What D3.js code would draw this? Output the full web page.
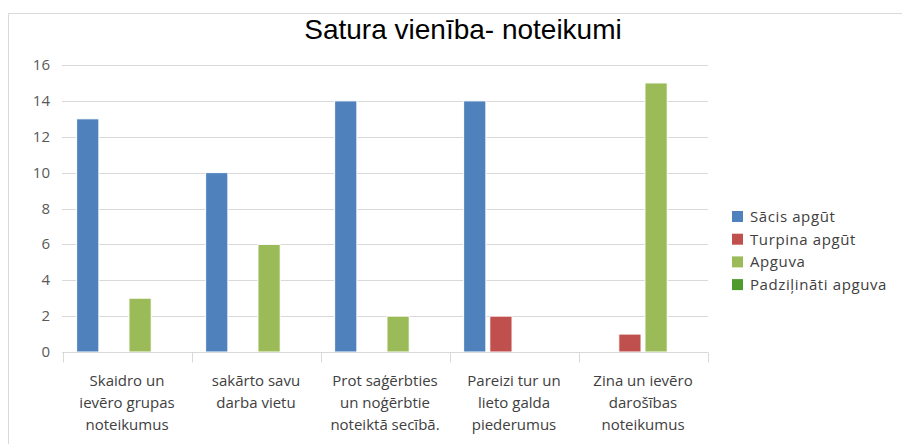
<!DOCTYPE html>
<html>
<head>
<meta charset="utf-8">
<script src="https://cdn.jsdelivr.net/npm/d3@7"></script>
<style>
  body { margin: 0; background: #fff; }
  svg { display: block; }
</style>
</head>
<body>
<div id="container"></div>
<script>
const categories = [
    ["Skaidro un", "ievēro grupas", "noteikumus"],
    ["sakārto savu", "darba vietu"],
    ["Prot saģērbties", "un noģērbtie", "noteiktā secībā."],
    ["Pareizi tur un", "lieto galda", "piederumus"],
    ["Zina un ievēro", "darošības", "noteikumus"]
];
const seriesNames = ["Sācis apgūt", "Turpina apgūt", "Apguva", "Padziļināti apguva"];
const sacis = [13, 10, 14, 14, 0];
const turpina = [0, 0, 0, 2, 1];
const apguva = [3, 6, 2, 0, 15];
const padzilinati = [0, 0, 0, 0, 0];
const yTicks = [0, 2, 4, 6, 8, 10, 12, 14, 16];
const colors = ["#4f81bd", "#c0504d", "#9bbb59", "#4e9a2b"];

const width = 902;
const height = 444;

const svg = d3.select("div#container").append("svg")
    .attr("width", width)
    .attr("height", height);

// outer frame (only top/left visible)
svg.append("path")
    .attr("d", "M8.5," + height + "V13.5H" + width)
    .attr("fill", "none")
    .attr("stroke", "#d9d9d9");

svg.append("text")
    .attr("x", 463)
    .attr("y", 39)
    .attr("text-anchor", "middle")
    .style("font-family", "Liberation Sans, Arial, sans-serif")
    .style("font-size", "28px")
    .attr("fill", "#000")
    .text("Satura vienība- noteikumi");

const values = [sacis, turpina, apguva, padzilinati];
const table = categories.map(function(c, i) {
    return values.map(function(v, j) { return { series: j, value: v[i] }; });
});

const x0 = d3.scaleBand()
    .domain(d3.range(categories.length))
    .range([62.5, 707.5])
    .padding(0);

const x1 = d3.scaleBand()
    .domain(d3.range(seriesNames.length))
    .range([0, x0.bandwidth()])
    .paddingInner(0.15)
    .paddingOuter(0.54);

const yScale = d3.scaleLinear().domain([0, 16]).range([352, 65]);

// gridlines
svg.append("g")
    .selectAll("line")
    .data(yTicks.slice(1))
    .enter().append("line")
    .attr("x1", 62)
    .attr("x2", 708)
    .attr("y1", function(d) { return Math.round(yScale(d)) + 0.5; })
    .attr("y2", function(d) { return Math.round(yScale(d)) + 0.5; })
    .attr("stroke", "#d9d9d9");

// y labels
svg.append("g")
    .selectAll("text")
    .data(yTicks)
    .enter().append("text")
    .attr("x", 50)
    .attr("y", function(d) { return yScale(d) + 5; })
    .attr("text-anchor", "end")
    .style("font-family", "Open Sans, sans-serif")
    .style("font-size", "15px")
    .attr("fill", "#595959")
    .text(function(d) { return d; });

// bars
const groups = svg.append("g").selectAll("g")
    .data(table)
    .enter().append("g")
    .attr("transform", function(d, i) { return "translate(" + x0(i) + ",0)"; });

groups.selectAll("rect")
    .data(function(d) { return d.filter(function(e) { return e.value > 0; }); })
    .enter().append("rect")
    .attr("x", function(d) { return x1(d.series); })
    .attr("width", x1.bandwidth())
    .attr("y", function(d) { return yScale(d.value); })
    .attr("height", function(d) { return yScale(0) - yScale(d.value); })
    .attr("fill", function(d) { return colors[d.series]; })
    .attr("stroke", "#fff")
    .attr("stroke-width", 1);

// x axis
const xaxis = svg.append("g").attr("transform", "translate(0,352.5)");
xaxis.append("line")
    .attr("x1", 62).attr("x2", 708)
    .attr("stroke", "#d9d9d9");
xaxis.selectAll("line.tick")
    .data(d3.range(categories.length + 1))
    .enter().append("line")
    .attr("class", "tick")
    .attr("x1", function(i) { return Math.round(62.5 + i * x0.step()) + 0.5; })
    .attr("x2", function(i) { return Math.round(62.5 + i * x0.step()) + 0.5; })
    .attr("y1", 0).attr("y2", 10)
    .attr("stroke", "#d9d9d9");

const labels = xaxis.selectAll("text")
    .data(categories)
    .enter().append("text")
    .attr("x", function(d, i) { return x0(i) + x0.bandwidth() / 2; })
    .attr("y", 33)
    .attr("text-anchor", "middle")
    .style("font-family", "Open Sans, sans-serif")
    .style("font-size", "15px")
    .attr("fill", "#404040");

labels.selectAll("tspan")
    .data(function(d) { return d; })
    .enter().append("tspan")
    .attr("x", function() { return d3.select(this.parentNode).attr("x"); })
    .attr("dy", function(d, i) { return i === 0 ? 0 : 22; })
    .text(function(d) { return d; });

// legend
const legend = svg.append("g").selectAll("g")
    .data(seriesNames)
    .enter().append("g")
    .attr("transform", function(d, i) { return "translate(732," + (216 + i * 22.7) + ")"; });

legend.append("rect")
    .attr("x", 0).attr("y", -5)
    .attr("width", 11).attr("height", 11)
    .attr("fill", function(d, i) { return colors[i]; });

legend.append("text")
    .attr("x", 18)
    .attr("y", 6)
    .style("font-family", "Open Sans, sans-serif")
    .style("font-size", "15px")
    .style("letter-spacing", "0.6px")
    .attr("fill", "#404040")
    .text(function(d) { return d; });
</script>
</body>
</html>
